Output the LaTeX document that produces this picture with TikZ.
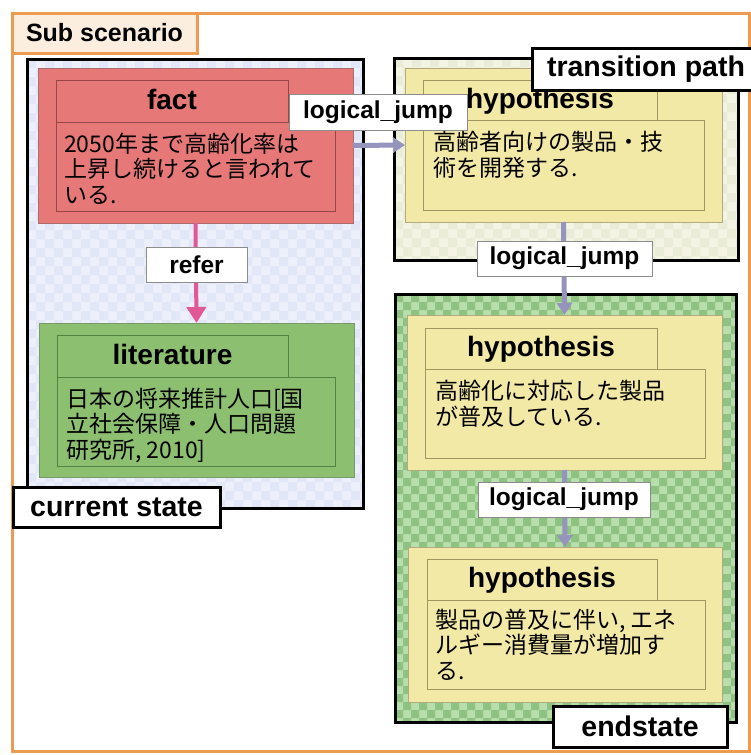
\documentclass[tikz,border=0pt]{standalone}
\usepackage{fontspec}
\setmainfont{Liberation Sans}
\newfontfamily\jpfont{Noto Sans CJK JP}
\usetikzlibrary{arrows.meta}

\definecolor{frameorange}{RGB}{236,155,80}
\definecolor{tagpeach}{RGB}{252,238,222}
\definecolor{factfill}{RGB}{231,120,120}
\definecolor{factline}{RGB}{150,70,70}
\definecolor{litfill}{RGB}{140,191,112}
\definecolor{litline}{RGB}{85,130,65}
\definecolor{hypfill}{RGB}{243,233,166}
\definecolor{hypline}{RGB}{160,150,95}
\definecolor{csbase}{RGB}{237,239,250}
\definecolor{csdot}{RGB}{226,231,248}
\definecolor{tpbase}{RGB}{243,244,228}
\definecolor{tpdot}{RGB}{233,236,214}
\definecolor{esbase}{RGB}{184,222,172}
\definecolor{esdot}{RGB}{141,194,128}
\definecolor{jumpcol}{RGB}{148,148,188}
\definecolor{refercol}{RGB}{226,88,150}
\definecolor{tagline}{RGB}{140,140,140}

\tikzset{
  corner/.style={anchor=north west, inner sep=0pt, outer sep=0pt},
  checker/.style n args={2}{path picture={%
    \foreach \i in {0,#2,...,460} {\foreach \j in {0,#2,...,460} {
      \fill[#1] ([shift={(\i,\j)}]path picture bounding box.north west) rectangle ++(#2/2,#2/2)
        ([shift={(\i+#2/2,\j+#2/2)}]path picture bounding box.north west) rectangle ++(#2/2,#2/2);
    }}}},
  container/.style={corner, draw=black, line width=3pt},
  statetag/.style={corner, draw=black, line width=3pt, fill=white,
    font=\bfseries\fontsize{28.5}{30}\selectfont},
  outerbox/.style={corner, line width=1pt},
  part/.style={corner, line width=0.8pt},
  title/.style={inner sep=0pt, text height=20pt, text depth=4pt,
    font=\bfseries\fontsize{28}{30}\selectfont},
  % the base anchor of these nodes sits on the last line
  bodytext/.style={anchor=base west, inner sep=0pt, align=left,
    font=\jpfont\fontsize{23}{25.5}\selectfont},
  linktag/.style={corner, draw=tagline, line width=0.8pt, fill=white,
    font=\bfseries\fontsize{24.5}{26}\selectfont},
  jump/.style={draw=jumpcol, line width=5pt, -{Triangle[width=15pt,length=12pt]}},
  referarrow/.style={draw=refercol, line width=4pt, -{Triangle[width=19pt,length=16pt]}}
}

\begin{document}
\begin{tikzpicture}[x=1pt,y=-1pt]
\useasboundingbox (0,0) rectangle (751,755);
\fill[white] (0,0) rectangle (751,755);

% scenario frame
\node[corner, draw=frameorange, line width=3pt, minimum width=737pt, minimum height=738pt] (scen) at (12,13) {};

% containers
\node[container, fill=csbase, checker={csdot}{18}, minimum width=336pt, minimum height=449pt] (cs) at (27,59) {};
\node[container, fill=tpbase, checker={tpdot}{18}, minimum width=344pt, minimum height=202pt] (tp) at (394,58) {};
\node[container, fill=esbase, checker={esdot}{16}, minimum width=341pt, minimum height=428pt] (es) at (395,294) {};

\node[corner, draw=frameorange, line width=3pt, fill=tagpeach, minimum width=185pt, minimum height=40pt,
  font=\bfseries\fontsize{25}{27}\selectfont] (scentag) at (12,13) {Sub scenario};

% fact
\node[outerbox, fill=factfill, draw=factline!80, minimum width=315pt, minimum height=155pt] (fact) at (38,68) {};
\node[part, draw=factline, minimum width=232pt, minimum height=42pt] (facthead) at (56,80) {};
\node[part, draw=factline, minimum width=279pt, minimum height=89pt] (factbody) at (56,122) {};
\node[title] (facttitle) at (facthead) {fact};
\node[bodytext] (facttext) at ([shift={(8,81)}]factbody.north west)
  {2050年まで高齢化率は\\上昇し続けると言われて\\いる.};

% literature
\node[outerbox, fill=litfill, draw=litline!80, minimum width=315pt, minimum height=154pt] (lit) at (39,323) {};
\node[part, draw=litline, minimum width=231pt, minimum height=42pt] (lithead) at (57,335) {};
\node[part, draw=litline, minimum width=278pt, minimum height=89pt] (litbody) at (57,377) {};
\node[title] (littitle) at (lithead) {literature};
\node[bodytext] (littext) at ([shift={(9,81)}]litbody.north west)
  {日本の将来推計人口[国\\立社会保障・人口問題\\研究所, 2010]};

% hypothesis in the transition path
\node[outerbox, fill=hypfill, draw=hypline!80, minimum width=317pt, minimum height=154pt] (hypa) at (405,68) {};
\node[part, draw=hypline, minimum width=234pt, minimum height=40pt] (hypahead) at (423,80) {};
\node[part, draw=hypline, minimum width=281pt, minimum height=90pt] (hypabody) at (423,120) {};
\node[title] (hypatitle) at (hypahead) {hypothesis};
\node[bodytext] (hypatext) at ([shift={(10,56)}]hypabody.north west)
  {高齢者向けの製品・技\\術を開発する.};

% hypotheses in the end state
\node[outerbox, fill=hypfill, draw=hypline!80, minimum width=315pt, minimum height=155pt] (hypb) at (407,315) {};
\node[part, draw=hypline, minimum width=232pt, minimum height=41pt] (hypbhead) at (425,328) {};
\node[part, draw=hypline, minimum width=280pt, minimum height=89pt] (hypbbody) at (425,369) {};
\node[title] (hypbtitle) at (hypbhead) {hypothesis};
\node[bodytext] (hypbtext) at ([shift={(10,56)}]hypbbody.north west)
  {高齢化に対応した製品\\が普及している.};

\node[outerbox, fill=hypfill, draw=hypline!80, minimum width=314pt, minimum height=155pt] (hypc) at (408,547) {};
\node[part, draw=hypline, minimum width=230pt, minimum height=41pt] (hypchead) at (427,559) {};
\node[part, draw=hypline, minimum width=278pt, minimum height=89pt] (hypcbody) at (427,600) {};
\node[title] (hypctitle) at (hypchead) {hypothesis};
\node[bodytext] (hypctext) at ([shift={(8,79)}]hypcbody.north west)
  {製品の普及に伴い, エネ\\ルギー消費量が増加す\\る.};

% connectors
\draw[jump] (fact.east) -- (hypa.west);
\draw[referarrow] (fact.south) -- (lit.north);
\draw[jump] (hypa.south) -- (hypb.north);
\draw[jump] (hypb.south) -- (hypc.north);

% connector tags
\node[linktag, minimum width=178pt, minimum height=36pt] (jumpa) at (289,94) {logical\_jump};
\node[linktag, minimum width=101pt, minimum height=35pt] (refertag) at (146,247) {refer};
\node[linktag, minimum width=175pt, minimum height=35pt] (jumpb) at (477,241) {logical\_jump};
\node[linktag, minimum width=172pt, minimum height=35pt] (jumpc) at (478,482) {logical\_jump};

% state tags
\node[statetag, minimum width=207pt, minimum height=40pt] (cstag) at (13,487) {current state};
\node[statetag, minimum width=228pt, minimum height=42pt] (tptag) at (532,48) {transition path};
\node[statetag, minimum width=174pt, minimum height=41pt] (estag) at (553,706) {endstate};
\end{tikzpicture}
\end{document}
